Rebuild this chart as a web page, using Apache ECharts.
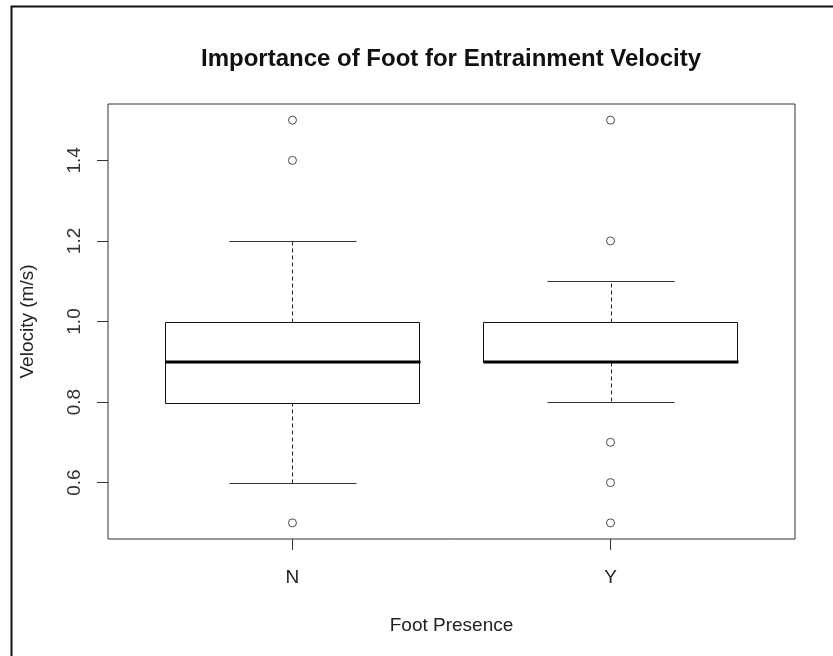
<!DOCTYPE html>
<html>
<head>
<meta charset="utf-8">
<script src="https://cdn.jsdelivr.net/npm/echarts@6/dist/echarts.min.js"></script>
<style>
  html, body { margin: 0; padding: 0; background: #fff; }
  #chart { width: 833px; height: 656px; }
</style>
</head>
<body>
<div id="chart"></div>
<script>
// Groups and five-number summaries (whisker ends, quartiles, median)
const categories = ['N', 'Y'];
const whiskerLow  = [0.6, 0.8];
const q1          = [0.8, 0.9];
const median      = [0.9, 0.9];
const q3          = [1.0, 1.0];
const whiskerHigh = [1.2, 1.1];
// Points beyond the whiskers, per group
const outliersN = [1.5, 1.4, 0.5];
const outliersY = [1.5, 1.2, 0.7, 0.6, 0.5];
const yTicks = [0.6, 0.8, 1.0, 1.2, 1.4];
const xTicks = [1, 2];

const boxRows = categories.map((c, i) => [i + 1, whiskerLow[i], q1[i], median[i], q3[i], whiskerHigh[i]]);
const outlierRows = [];
outliersN.forEach(v => outlierRows.push([1, v]));
outliersY.forEach(v => outlierRows.push([2, v]));

const px = v => Math.round(v) + 0.5;

function renderBox(params, api) {
  const x = api.value(0);
  const lo = api.coord([x, api.value(1)]);
  const b1 = api.coord([x, api.value(2)]);
  const md = api.coord([x, api.value(3)]);
  const b3 = api.coord([x, api.value(4)]);
  const hi = api.coord([x, api.value(5)]);
  const left = api.coord([x - 0.4, 0])[0];
  const right = api.coord([x + 0.4, 0])[0];
  const capL = api.coord([x - 0.2, 0])[0];
  const capR = api.coord([x + 0.2, 0])[0];
  const cx = px(lo[0]);
  const dashStyle = { stroke: '#222', lineWidth: 1, lineDash: [4, 3], fill: null };
  return {
    type: 'group',
    children: [
      { type: 'line', shape: { x1: cx, y1: px(b3[1]), x2: cx, y2: px(hi[1]) }, style: dashStyle },
      { type: 'line', shape: { x1: cx, y1: px(b1[1]), x2: cx, y2: px(lo[1]) }, style: dashStyle },
      { type: 'line', shape: { x1: px(capL), y1: px(hi[1]), x2: px(capR), y2: px(hi[1]) }, style: { stroke: '#333', lineWidth: 1 } },
      { type: 'line', shape: { x1: px(capL), y1: px(lo[1]), x2: px(capR), y2: px(lo[1]) }, style: { stroke: '#333', lineWidth: 1 } },
      { type: 'rect', shape: { x: px(left), y: px(b3[1]), width: Math.round(right - left), height: Math.round(b1[1] - b3[1]) },
        style: { stroke: '#111', lineWidth: 1, fill: '#fff' } },
      { type: 'line', shape: { x1: px(left), y1: Math.round(md[1]), x2: px(right), y2: Math.round(md[1]) },
        style: { stroke: '#000', lineWidth: 3 } }
    ]
  };
}

const chart = echarts.init(document.getElementById('chart'), null, { renderer: 'canvas' });
const font = 'Liberation Sans, Arial, sans-serif';

chart.setOption({
  animation: false,
  backgroundColor: '#fff',
  title: {
    text: 'Importance of Foot for Entrainment Velocity',
    left: 446,
    textAlign: 'center',
    top: 42,
    textStyle: { fontFamily: font, fontSize: 24, fontWeight: 'bold', color: '#111' }
  },
  graphic: [
    { type: 'rect', left: 9, top: 4, shape: { width: 900, height: 700 },
      style: { fill: null, stroke: '#111', lineWidth: 2 }, silent: true }
  ],
  grid: {
    left: 108, top: 104, width: 687, height: 435,
    show: true, borderColor: '#333', borderWidth: 1, backgroundColor: 'transparent'
  },
  xAxis: {
    type: 'value', min: 0.42, max: 2.58,
    name: 'Foot Presence', nameLocation: 'middle', nameGap: 77,
    nameTextStyle: { fontFamily: font, fontSize: 19, color: '#222' },
    axisLine: { show: false },
    splitLine: { show: false },
    axisTick: { show: true, customValues: xTicks, length: 11, lineStyle: { color: '#333' } },
    axisLabel: {
      customValues: xTicks, margin: 29,
      fontFamily: font, fontSize: 19, color: '#222',
      formatter: v => categories[Math.round(v) - 1]
    }
  },
  yAxis: {
    type: 'value', min: 0.46, max: 1.54,
    name: 'Velocity (m/s)', nameLocation: 'middle', nameGap: 71,
    nameTextStyle: { fontFamily: font, fontSize: 19, color: '#222' },
    axisLine: { show: false },
    splitLine: { show: false },
    axisTick: { show: true, customValues: yTicks, length: 11, lineStyle: { color: '#333' } },
    axisLabel: {
      customValues: yTicks, rotate: 90, margin: 24,
      fontFamily: font, fontSize: 19, color: '#333',
      formatter: v => v.toFixed(1)
    }
  },
  series: [
    {
      type: 'custom',
      renderItem: renderBox,
      data: boxRows,
      encode: { x: 0, y: [1, 2, 3, 4, 5] },
      z: 2
    },
    {
      type: 'scatter',
      data: outlierRows,
      symbol: 'circle',
      symbolSize: 8,
      itemStyle: { color: '#fff', borderColor: '#222', borderWidth: 1 },
      z: 3
    }
  ]
});
</script>
</body>
</html>
